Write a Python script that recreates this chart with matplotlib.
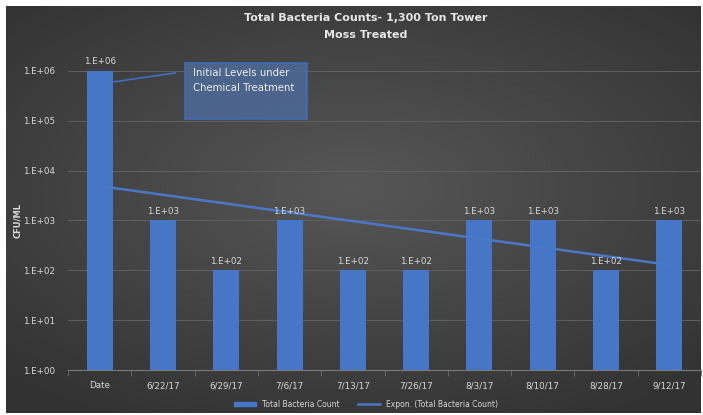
import numpy as np
import matplotlib.pyplot as plt
from matplotlib.patches import Patch, Rectangle
from matplotlib.lines import Line2D

dates = ['Date', '6/22/17', '6/29/17', '7/6/17', '7/13/17', '7/26/17',
         '8/3/17', '8/10/17', '8/28/17', '9/12/17']
counts = [1e6, 1e3, 1e2, 1e3, 1e2, 1e2, 1e3, 1e3, 1e2, 1e3]
ytick_vals = [1e0, 1e1, 1e2, 1e3, 1e4, 1e5, 1e6]
ytick_labels = ['1.E+00', '1.E+01', '1.E+02', '1.E+03', '1.E+04', '1.E+05', '1.E+06']

W, H = 703, 415
fig = plt.figure(figsize=(W / 100, H / 100), dpi=100, facecolor='white')


def px(x, y):
    # pixel position (from top-left) -> figure fraction
    return x / W, 1 - y / H


# dark radial-gradient background
bg = fig.add_axes([6 / W, 2 / H, 695 / W, 407 / H])
bg.axis('off')
gx, gy = np.meshgrid(np.linspace(-1, 1, 300), np.linspace(-1, 1, 200))
r = np.clip(np.sqrt((gx * 0.9) ** 2 + (gy * 1.0 + 0.1) ** 2), 0, 1.3)
shade = 0.34 - 0.11 * r
bg.imshow(np.dstack([shade, shade, shade]), aspect='auto', extent=[0, 1, 0, 1])

ax = fig.add_axes([68 / W, 1 - 370 / H, 633 / W, 299 / H])
ax.set_facecolor('none')
x = np.arange(len(dates))
ax.bar(x, counts, width=0.41, color='#4676c6', zorder=3)
ax.set_yscale('log')
ax.set_ylim(1, 1e6)
ax.set_xlim(-0.5, len(dates) - 0.5)

# Excel-style exponential trendline
coef = np.polyfit(x + 1, np.log10(counts), 1)
trend = 10 ** np.polyval(coef, x + 1)
ax.plot(x, trend, color='#4a78c6', lw=1.8, zorder=4)

for xi, v in zip(x, counts):
    ax.text(xi, v * 1.25, '1.E+%02d' % int(round(np.log10(v))), ha='center', va='bottom',
            fontsize=6.3, color='#d8d8d8', zorder=5)

ax.set_yticks(ytick_vals)
ax.set_yticklabels(ytick_labels)
ax.minorticks_off()
ax.set_xticks(x)
ax.set_xticklabels(dates)
ax.tick_params(axis='y', length=0, labelsize=6.3, labelcolor='#d8d8d8', pad=9)
ax.tick_params(axis='x', length=0, labelsize=6.3, labelcolor='#d8d8d8', pad=8)
ax.set_xticks(np.arange(-0.5, len(dates), 1), minor=True)
ax.tick_params(axis='x', which='minor', length=4, color='#707070')
ax.grid(axis='y', color='#606060', lw=0.7, zorder=0)
for s in ['top', 'right', 'left']:
    ax.spines[s].set_visible(False)
ax.spines['bottom'].set_color('#7a7a7a')
ax.set_ylabel('CFU/ML', fontsize=6, color='#d8d8d8', fontweight='bold')
ax.yaxis.set_label_coords((22 - 68) / 633, 0.5)

fig.text(*px(366, 18), 'Total Bacteria Counts- 1,300 Ton Tower', ha='center', va='center',
         fontsize=8, fontweight='bold', color='#e6e6e6')
fig.text(*px(366, 35), 'Moss Treated', ha='center', va='center',
         fontsize=8, fontweight='bold', color='#e6e6e6')

# callout box with leader line
x0, y0 = px(185, 119)
x1, y1 = px(307, 63)
fig.add_artist(Rectangle((x0, y0), x1 - x0, y1 - y0, transform=fig.transFigure,
                         fc='#4d6a99', ec='#3e70c4', lw=1.2, alpha=0.85, zorder=6))
fig.text(*px(193, 73), 'Initial Levels under', ha='left', va='center', fontsize=7.3,
         color='#eeeeee', zorder=7)
fig.text(*px(193, 88), 'Chemical Treatment', ha='left', va='center', fontsize=7.3,
         color='#eeeeee', zorder=7)
lx0, ly0 = px(113, 82)
lx1, ly1 = px(175, 73)
fig.add_artist(Line2D([lx0, lx1], [ly0, ly1], transform=fig.transFigure,
                      color='#3e70c4', lw=1.2, zorder=6))

handles = [Patch(color='#4676c6'), Line2D([0], [0], color='#4a78c6', lw=1.8)]
fig.legend(handles, ['Total Bacteria Count', 'Expon. (Total Bacteria Count)'],
           loc='center', bbox_to_anchor=px(366, 404), ncol=2, frameon=False,
           fontsize=5.5, labelcolor='#d8d8d8', handlelength=2.8, handleheight=0.5,
           columnspacing=2.5)

fig.savefig('out.png', dpi=100, facecolor='white')
